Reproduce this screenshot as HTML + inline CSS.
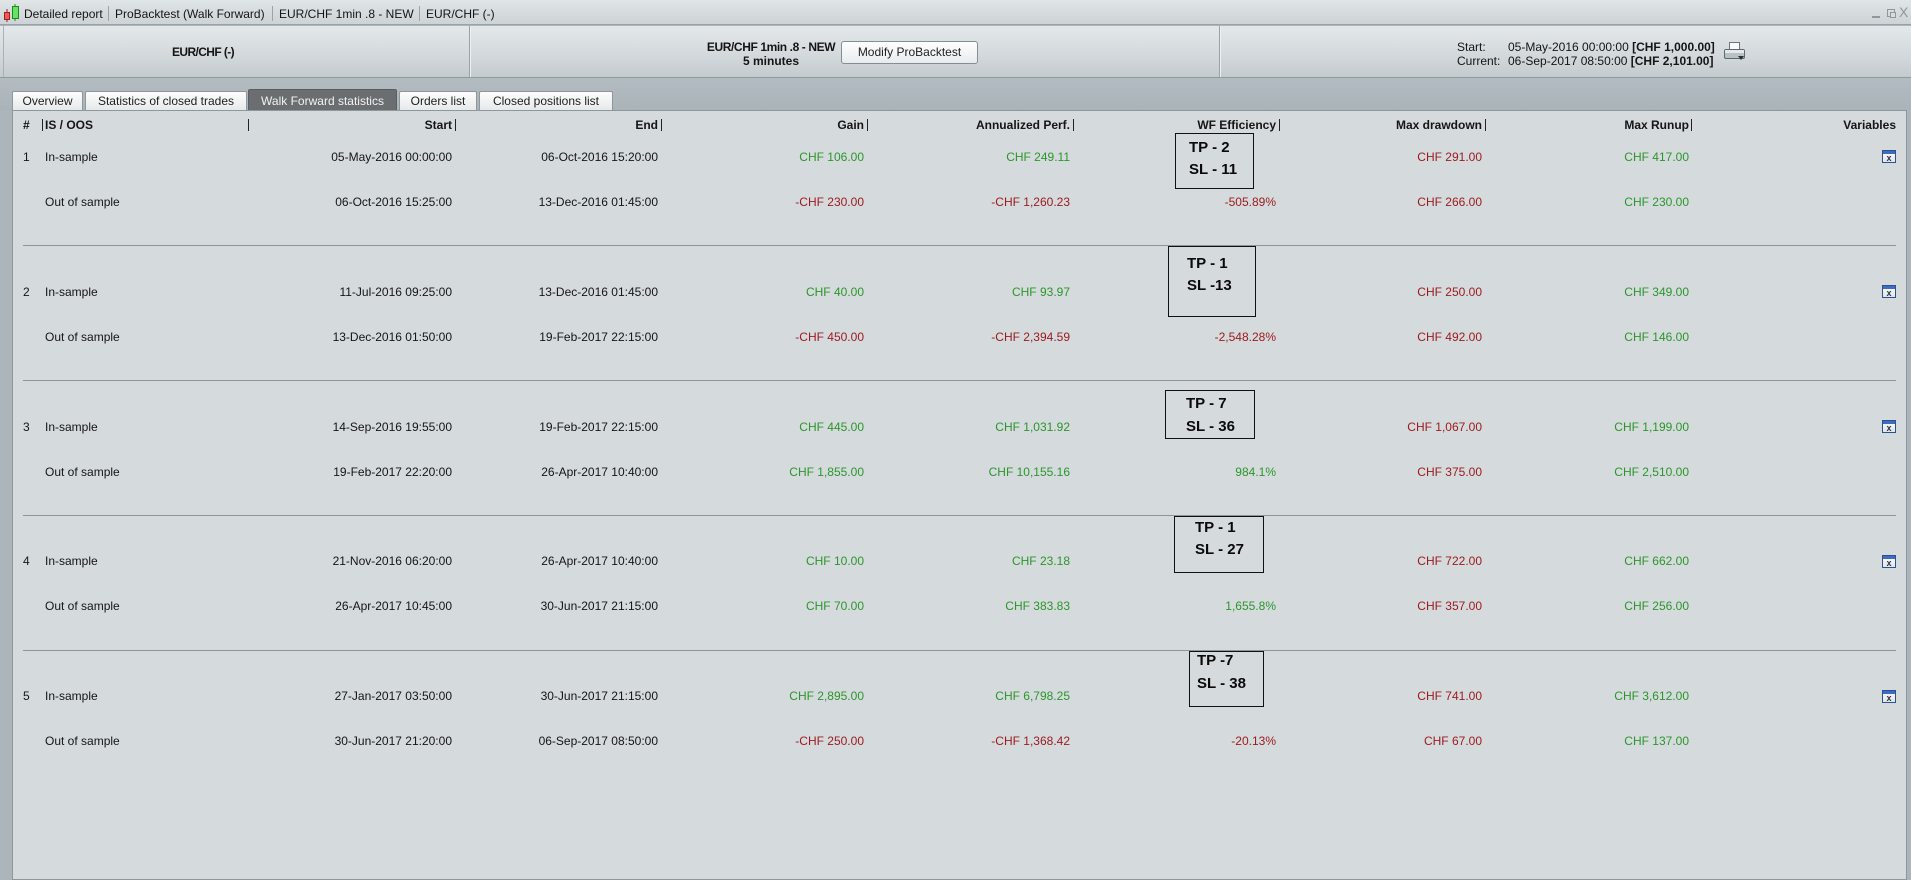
<!DOCTYPE html>
<html><head><meta charset="utf-8">
<style>
*{margin:0;padding:0;box-sizing:border-box}
html,body{width:1911px;height:873px;overflow:hidden;background:#abb5ba;font-family:"Liberation Sans",Arial,sans-serif;font-size:12px;color:#151515}
.a{position:absolute;white-space:nowrap}
.r{position:absolute;white-space:nowrap;width:200px;text-align:right;line-height:14px;height:14px}
.l{position:absolute;white-space:nowrap;line-height:14px;height:14px}
.g{color:#2c962c}
.d{color:#9b1a1e}
.b{font-weight:bold}
.sep{position:absolute;left:23px;width:1873px;height:1px;background:#8d9599}
.box{position:absolute;border:1px solid #111}
.tp{position:absolute;font-weight:bold;font-size:15px;line-height:18px;color:#0a0a0a;white-space:nowrap}
.vb{position:absolute;width:1px;height:12px;background:#222;top:119px}
.ic{position:absolute;left:1882px;width:14px;height:13px;border:1px solid #2f4f8f;background:linear-gradient(#3d6cc0 0,#3d6cc0 3px,#f4f6fa 3px,#dfe5ef 100%);font-size:9px;line-height:10px;text-align:center;color:#333;font-weight:bold;padding-top:2px}
.tab{position:absolute;top:91px;height:20px;line-height:19px;text-align:center;border:1px solid #8d979c;border-bottom:none;background:linear-gradient(#fdfdfd,#e5e8e9);color:#1e1e1e;border-radius:2px 2px 0 0}
</style></head>
<body>
<!-- title bar -->
<div class="a" style="left:0;top:0;width:1911px;height:25px;background:linear-gradient(#e0e5e7,#cdd3d6);border-bottom:1px solid #98a3a8"></div>
<svg class="a" style="left:3px;top:4px" width="18" height="19" viewBox="0 0 18 19">
  <line x1="4" y1="5" x2="4" y2="18" stroke="#a02020" stroke-width="1"/>
  <rect x="1.5" y="8.5" width="5" height="7" fill="#ee5a5a" stroke="#a02020"/>
  <line x1="12" y1="0" x2="12" y2="17" stroke="#1e8a1e" stroke-width="1"/>
  <rect x="9.5" y="2.5" width="6" height="12" fill="#66e266" stroke="#1e8a1e"/>
</svg>
<div class="a" style="left:24px;top:7px;line-height:14px">Detailed report</div>
<div class="a" style="left:108px;top:6px;width:1px;height:15px;background:#9aa4a9"></div>
<div class="a" style="left:115px;top:7px;line-height:14px">ProBacktest (Walk Forward)</div>
<div class="a" style="left:272px;top:6px;width:1px;height:15px;background:#9aa4a9"></div>
<div class="a" style="left:279px;top:7px;line-height:14px">EUR/CHF 1min .8 - NEW</div>
<div class="a" style="left:419px;top:6px;width:1px;height:15px;background:#9aa4a9"></div>
<div class="a" style="left:426px;top:7px;line-height:14px">EUR/CHF (-)</div>
<div class="a" style="left:1872px;top:16px;width:8px;height:2px;background:#8f979b"></div>
<div class="a" style="left:1887px;top:9px;width:8px;height:8px;border:1px solid #8f979b"></div>
<div class="a" style="left:1890px;top:12px;width:6px;height:6px;border:1px solid #8f979b;background:#d6dcdf"></div>
<div class="a" style="left:1899px;top:4px;color:#8f979b;font-size:14px;line-height:16px">X</div>

<!-- header panel -->
<div class="a" style="left:0;top:26px;width:1911px;height:52px;background:linear-gradient(#e4e8eb,#d2d8db 60%,#c4cbcf);border-bottom:1px solid #8e999f"></div>
<div class="a" style="left:3px;top:26px;width:1px;height:51px;background:#a8b1b6"></div>
<div class="a" style="left:469px;top:26px;width:1px;height:51px;background:#98a2a7"></div>
<div class="a" style="left:470px;top:26px;width:1px;height:51px;background:#eef1f2"></div>
<div class="a" style="left:1219px;top:26px;width:1px;height:51px;background:#98a2a7"></div>
<div class="a" style="left:1220px;top:26px;width:1px;height:51px;background:#eef1f2"></div>

<div class="a b" style="left:150px;width:106px;text-align:center;top:45px;line-height:14px;letter-spacing:-0.6px">EUR/CHF (-)</div>
<div class="a b" style="left:691px;width:160px;text-align:center;top:40px;line-height:14px;letter-spacing:-0.4px">EUR/CHF 1min .8 - NEW</div>
<div class="a b" style="left:691px;width:160px;text-align:center;top:54px;line-height:14px">5 minutes</div>
<div class="a" style="left:841px;top:41px;width:137px;height:23px;border:1px solid #858e93;border-radius:3px;background:linear-gradient(#fefefe,#e9ecee);text-align:center;line-height:21px;color:#222">Modify ProBacktest</div>

<div class="a" style="left:1457px;top:40px;line-height:14px">Start:</div>
<div class="a" style="left:1457px;top:54px;line-height:14px">Current:</div>
<div class="a" style="left:1508px;top:40px;line-height:14px">05-May-2016 00:00:00 <b>[CHF 1,000.00]</b></div>
<div class="a" style="left:1508px;top:54px;line-height:14px">06-Sep-2017 08:50:00 <b>[CHF 2,101.00]</b></div>
<svg class="a" style="left:1723px;top:41px" width="23" height="21" viewBox="0 0 23 21">
  <rect x="6.5" y="1.5" width="10" height="8" fill="#fafafa" stroke="#6d767b"/>
  <rect x="1.5" y="8.5" width="20" height="9" rx="1.5" fill="#b9c1c6" stroke="#5f686d"/>
  <rect x="2" y="9" width="19" height="3" fill="#e4e8ea"/>
  <path d="M15 15 L21 15 L18 19 Z" fill="#2a2f33"/>
</svg>

<!-- tab strip -->
<div class="a" style="left:0;top:78px;width:1911px;height:33px;background:linear-gradient(#b3bcc1,#a9b3b8)"></div>
<div class="tab" style="left:12px;width:71px">Overview</div>
<div class="tab" style="left:85px;width:162px">Statistics of closed trades</div>
<div class="tab" style="left:248px;top:89px;height:22px;line-height:22px;width:149px;background:#6b6e71;border-color:#5c5f62;color:#f2f2f2">Walk Forward statistics</div>
<div class="tab" style="left:399px;width:78px">Orders list</div>
<div class="tab" style="left:479px;width:134px">Closed positions list</div>

<!-- table panel -->
<div class="a" style="left:12px;top:110px;width:1895px;height:770px;background:#d5dadd;border:1px solid #8d979c"></div>

<!-- header -->
<div class="l b" style="left:23px;top:118px">#</div>
<div class="vb" style="left:42px"></div>
<div class="l b" style="left:45px;top:118px">IS / OOS</div>
<div class="vb" style="left:248px"></div>
<div class="r b" style="left:252px;top:118px">Start</div><div class="vb" style="left:455px"></div>
<div class="r b" style="left:458px;top:118px">End</div><div class="vb" style="left:661px"></div>
<div class="r b" style="left:664px;top:118px">Gain</div><div class="vb" style="left:867px"></div>
<div class="r b" style="left:870px;top:118px">Annualized Perf.</div><div class="vb" style="left:1073px"></div>
<div class="r b" style="left:1076px;top:118px">WF Efficiency</div><div class="vb" style="left:1279px"></div>
<div class="r b" style="left:1282px;top:118px">Max drawdown</div><div class="vb" style="left:1485px"></div>
<div class="r b" style="left:1489px;top:118px">Max Runup</div><div class="vb" style="left:1691px"></div>
<div class="r b" style="left:1696px;top:118px">Variables</div>

<!-- row 1 -->
<div class="l" style="left:23px;top:150px">1</div>
<div class="l" style="left:45px;top:150px">In-sample</div>
<div class="r" style="left:252px;top:150px">05-May-2016 00:00:00</div>
<div class="r" style="left:458px;top:150px">06-Oct-2016 15:20:00</div>
<div class="r g" style="left:664px;top:150px">CHF 106.00</div>
<div class="r g" style="left:870px;top:150px">CHF 249.11</div>
<div class="r d" style="left:1282px;top:150px">CHF 291.00</div>
<div class="r g" style="left:1489px;top:150px">CHF 417.00</div>
<div class="ic" style="top:150px">x</div>
<div class="l" style="left:45px;top:195px">Out of sample</div>
<div class="r" style="left:252px;top:195px">06-Oct-2016 15:25:00</div>
<div class="r" style="left:458px;top:195px">13-Dec-2016 01:45:00</div>
<div class="r d" style="left:664px;top:195px">-CHF 230.00</div>
<div class="r d" style="left:870px;top:195px">-CHF 1,260.23</div>
<div class="r d" style="left:1076px;top:195px">-505.89%</div>
<div class="r d" style="left:1282px;top:195px">CHF 266.00</div>
<div class="r g" style="left:1489px;top:195px">CHF 230.00</div>
<div class="sep" style="top:245px"></div>

<!-- row 2 -->
<div class="l" style="left:23px;top:285px">2</div>
<div class="l" style="left:45px;top:285px">In-sample</div>
<div class="r" style="left:252px;top:285px">11-Jul-2016 09:25:00</div>
<div class="r" style="left:458px;top:285px">13-Dec-2016 01:45:00</div>
<div class="r g" style="left:664px;top:285px">CHF 40.00</div>
<div class="r g" style="left:870px;top:285px">CHF 93.97</div>
<div class="r d" style="left:1282px;top:285px">CHF 250.00</div>
<div class="r g" style="left:1489px;top:285px">CHF 349.00</div>
<div class="ic" style="top:285px">x</div>
<div class="l" style="left:45px;top:330px">Out of sample</div>
<div class="r" style="left:252px;top:330px">13-Dec-2016 01:50:00</div>
<div class="r" style="left:458px;top:330px">19-Feb-2017 22:15:00</div>
<div class="r d" style="left:664px;top:330px">-CHF 450.00</div>
<div class="r d" style="left:870px;top:330px">-CHF 2,394.59</div>
<div class="r d" style="left:1076px;top:330px">-2,548.28%</div>
<div class="r d" style="left:1282px;top:330px">CHF 492.00</div>
<div class="r g" style="left:1489px;top:330px">CHF 146.00</div>
<div class="sep" style="top:380px"></div>

<!-- row 3 -->
<div class="l" style="left:23px;top:420px">3</div>
<div class="l" style="left:45px;top:420px">In-sample</div>
<div class="r" style="left:252px;top:420px">14-Sep-2016 19:55:00</div>
<div class="r" style="left:458px;top:420px">19-Feb-2017 22:15:00</div>
<div class="r g" style="left:664px;top:420px">CHF 445.00</div>
<div class="r g" style="left:870px;top:420px">CHF 1,031.92</div>
<div class="r d" style="left:1282px;top:420px">CHF 1,067.00</div>
<div class="r g" style="left:1489px;top:420px">CHF 1,199.00</div>
<div class="ic" style="top:420px">x</div>
<div class="l" style="left:45px;top:465px">Out of sample</div>
<div class="r" style="left:252px;top:465px">19-Feb-2017 22:20:00</div>
<div class="r" style="left:458px;top:465px">26-Apr-2017 10:40:00</div>
<div class="r g" style="left:664px;top:465px">CHF 1,855.00</div>
<div class="r g" style="left:870px;top:465px">CHF 10,155.16</div>
<div class="r g" style="left:1076px;top:465px">984.1%</div>
<div class="r d" style="left:1282px;top:465px">CHF 375.00</div>
<div class="r g" style="left:1489px;top:465px">CHF 2,510.00</div>
<div class="sep" style="top:515px"></div>

<!-- row 4 -->
<div class="l" style="left:23px;top:554px">4</div>
<div class="l" style="left:45px;top:554px">In-sample</div>
<div class="r" style="left:252px;top:554px">21-Nov-2016 06:20:00</div>
<div class="r" style="left:458px;top:554px">26-Apr-2017 10:40:00</div>
<div class="r g" style="left:664px;top:554px">CHF 10.00</div>
<div class="r g" style="left:870px;top:554px">CHF 23.18</div>
<div class="r d" style="left:1282px;top:554px">CHF 722.00</div>
<div class="r g" style="left:1489px;top:554px">CHF 662.00</div>
<div class="ic" style="top:555px">x</div>
<div class="l" style="left:45px;top:599px">Out of sample</div>
<div class="r" style="left:252px;top:599px">26-Apr-2017 10:45:00</div>
<div class="r" style="left:458px;top:599px">30-Jun-2017 21:15:00</div>
<div class="r g" style="left:664px;top:599px">CHF 70.00</div>
<div class="r g" style="left:870px;top:599px">CHF 383.83</div>
<div class="r g" style="left:1076px;top:599px">1,655.8%</div>
<div class="r d" style="left:1282px;top:599px">CHF 357.00</div>
<div class="r g" style="left:1489px;top:599px">CHF 256.00</div>
<div class="sep" style="top:650px"></div>

<!-- row 5 -->
<div class="l" style="left:23px;top:689px">5</div>
<div class="l" style="left:45px;top:689px">In-sample</div>
<div class="r" style="left:252px;top:689px">27-Jan-2017 03:50:00</div>
<div class="r" style="left:458px;top:689px">30-Jun-2017 21:15:00</div>
<div class="r g" style="left:664px;top:689px">CHF 2,895.00</div>
<div class="r g" style="left:870px;top:689px">CHF 6,798.25</div>
<div class="r d" style="left:1282px;top:689px">CHF 741.00</div>
<div class="r g" style="left:1489px;top:689px">CHF 3,612.00</div>
<div class="ic" style="top:690px">x</div>
<div class="l" style="left:45px;top:734px">Out of sample</div>
<div class="r" style="left:252px;top:734px">30-Jun-2017 21:20:00</div>
<div class="r" style="left:458px;top:734px">06-Sep-2017 08:50:00</div>
<div class="r d" style="left:664px;top:734px">-CHF 250.00</div>
<div class="r d" style="left:870px;top:734px">-CHF 1,368.42</div>
<div class="r d" style="left:1076px;top:734px">-20.13%</div>
<div class="r d" style="left:1282px;top:734px">CHF 67.00</div>
<div class="r g" style="left:1489px;top:734px">CHF 137.00</div>

<!-- TP / SL boxes -->
<div class="box" style="left:1175px;top:133px;width:79px;height:56px"></div>
<div class="tp" style="left:1189px;top:139px">TP - 2</div>
<div class="tp" style="left:1189px;top:161px">SL - 11</div>

<div class="box" style="left:1168px;top:246px;width:88px;height:71px"></div>
<div class="tp" style="left:1187px;top:255px">TP - 1</div>
<div class="tp" style="left:1187px;top:277px">SL -13</div>

<div class="box" style="left:1165px;top:390px;width:90px;height:49px"></div>
<div class="tp" style="left:1186px;top:395px">TP - 7</div>
<div class="tp" style="left:1186px;top:418px">SL - 36</div>

<div class="box" style="left:1174px;top:516px;width:90px;height:57px"></div>
<div class="tp" style="left:1195px;top:519px">TP - 1</div>
<div class="tp" style="left:1195px;top:541px">SL - 27</div>

<div class="box" style="left:1189px;top:651px;width:75px;height:56px"></div>
<div class="tp" style="left:1197px;top:652px">TP -7</div>
<div class="tp" style="left:1197px;top:675px">SL - 38</div>
</body></html>
